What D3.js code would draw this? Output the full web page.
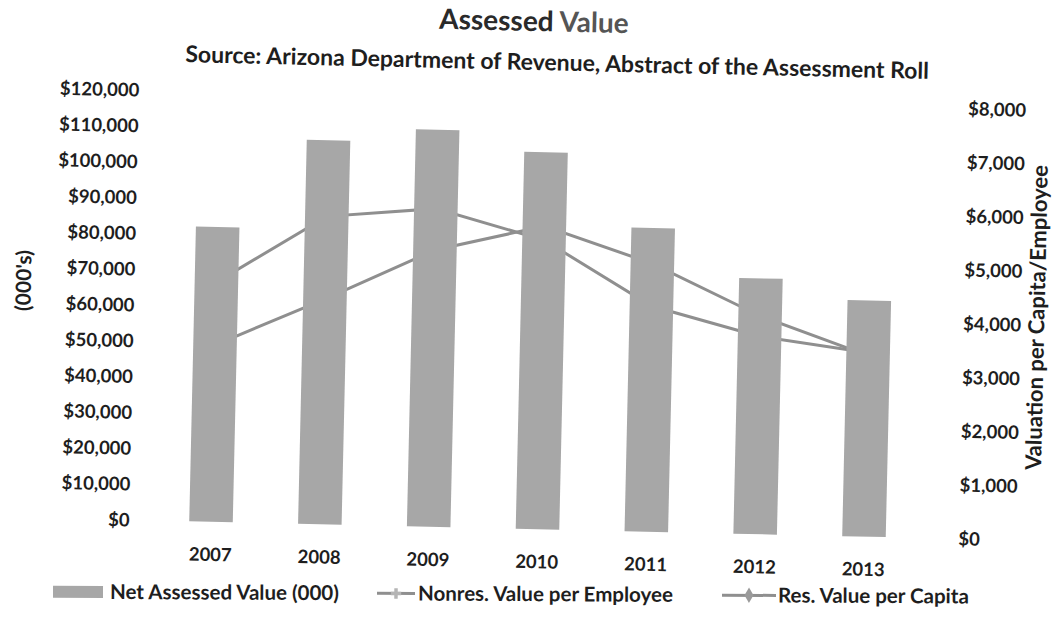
<!DOCTYPE html>
<html>
<head>
<meta charset="utf-8">
<script src="https://cdn.jsdelivr.net/npm/d3@7"></script>
<style>
  html, body { margin: 0; padding: 0; background: #fff; }
  svg { display: block; }
  text { font-family: Lato, "Noto Sans", sans-serif; }
</style>
</head>
<body>
<svg id="chart" width="1055" height="622"></svg>
<script>
// ---- data ----
const years = ["2007", "2008", "2009", "2010", "2011", "2012", "2013"];
const netAssessedValue = [82300, 107200, 110800, 105200, 84800, 71400, 65900];
const nonresValuePerEmployee = [4460, 5730, 5920, 5380, 4200, 3680, 3420];
const resValuePerCapita = [3290, 4190, 5150, 5640, 4990, 4060, 3370];
const leftTicks = [0, 10000, 20000, 30000, 40000, 50000, 60000, 70000, 80000, 90000, 100000, 110000, 120000];
const rightTicks = [0, 1000, 2000, 3000, 4000, 5000, 6000, 7000, 8000];
const seriesNames = ["Net Assessed Value (000)", "Nonres. Value per Employee", "Res. Value per Capita"];

// ---- layout / style ----
const W = 1055, H = 622;
const plotLeft = 161, plotRight = 923, plotTop = 99, plotBottom = 529;
const barColor = "#a7a7a7";
const lineColor = "#8f8f8f";
const textColor = "#1e1e1e";

const svg = d3.select("#chart");
svg.append("rect").attr("width", W).attr("height", H).attr("fill", "#fff");
// slight scan skew of the reference
const g = svg.append("g").attr("transform", "rotate(1.3, 530, 330)");

const x = d3.scaleBand().domain(years).range([plotLeft, plotRight]).paddingInner(0.6).paddingOuter(0.3);
const yL = d3.scaleLinear().domain([0, 120000]).range([plotBottom, plotTop]);
const yR = d3.scaleLinear().domain([0, 8000]).range([plotBottom, plotTop]);
const cx = d => x(d) + x.bandwidth() / 2;

// lines (drawn behind the bars, as in the reference)
const lineGen = arr => d3.line().x((d, i) => cx(years[i])).y(d => yR(d))(arr);
g.append("path").attr("d", lineGen(nonresValuePerEmployee))
  .attr("fill", "none").attr("stroke", lineColor).attr("stroke-width", 3);
g.append("path").attr("d", lineGen(resValuePerCapita))
  .attr("fill", "none").attr("stroke", lineColor).attr("stroke-width", 3);

// bars
g.selectAll("rect.bar").data(netAssessedValue).enter().append("rect")
  .attr("class", "bar")
  .attr("x", (d, i) => x(years[i]))
  .attr("width", x.bandwidth())
  .attr("y", d => yL(d))
  .attr("height", d => yL(0) - yL(d))
  .attr("fill", barColor);

// left axis
const money = d => "$" + d3.format(",")(d);
const axL = g.append("g").attr("transform", "translate(134,0)")
  .call(d3.axisLeft(yL).tickValues(leftTicks).tickFormat(money).tickSize(0).tickPadding(0));
axL.select(".domain").remove();
axL.selectAll("text").attr("font-size", 18.5).attr("font-weight", 700).attr("fill", textColor)
  .style("font-family", "Lato, sans-serif");

// right axis
const axR = g.append("g").attr("transform", "translate(963,0)")
  .call(d3.axisRight(yR).tickValues(rightTicks).tickFormat(money).tickSize(0).tickPadding(0));
axR.select(".domain").remove();
axR.selectAll("text").attr("font-size", 18.5).attr("font-weight", 700).attr("fill", textColor)
  .style("font-family", "Lato, sans-serif");

// x axis
const axX = g.append("g").attr("transform", "translate(0,555)")
  .call(d3.axisBottom(x).tickSize(0).tickPadding(0));
axX.select(".domain").remove();
axX.selectAll("text").attr("font-size", 18.5).attr("font-weight", 700).attr("fill", textColor)
  .style("font-family", "Lato, sans-serif");

// titles
const title = g.append("text").attr("x", 527).attr("y", 31).attr("text-anchor", "middle")
  .attr("font-size", 28).attr("font-weight", 700);
title.append("tspan").attr("fill", "#2a2a2a").text("Assessed ");
title.append("tspan").attr("fill", "#555").text("Value");

g.append("text").attr("x", 551).attr("y", 70).attr("text-anchor", "middle")
  .attr("font-size", 23).attr("font-weight", 700).attr("fill", textColor)
  .text("Source: Arizona Department of Revenue, Abstract of the Assessment Roll");

g.append("text").attr("transform", "translate(30,292) rotate(-90)").attr("text-anchor", "middle")
  .attr("font-size", 21).attr("font-weight", 700).attr("fill", textColor).text("(000's)");

g.append("text").attr("transform", "translate(1044,306) rotate(-90)").attr("text-anchor", "middle")
  .attr("font-size", 22).attr("font-weight", 700).attr("fill", textColor)
  .text("Valuation per Capita/Employee");

// legend (less skewed than the plot in the reference)
const legY = 594;
const leg = svg.append("g").attr("transform", "rotate(0.3, 500, 594)");
const legFont = 20.5;
leg.append("rect").attr("x", 53).attr("y", legY - 6).attr("width", 50).attr("height", 12).attr("fill", barColor);
leg.append("text").attr("x", 110).attr("y", legY + 7).attr("font-size", legFont).attr("font-weight", 700)
  .attr("fill", textColor).text(seriesNames[0]);

leg.append("line").attr("x1", 377).attr("x2", 415).attr("y1", legY).attr("y2", legY)
  .attr("stroke", lineColor).attr("stroke-width", 3);
leg.append("path").attr("d", d3.symbol(d3.symbolCross, 60)()).attr("transform", `translate(396,${legY})`)
  .attr("fill", "#b5b5b5");
leg.append("text").attr("x", 418).attr("y", legY + 7).attr("font-size", legFont).attr("font-weight", 700)
  .attr("fill", textColor).text(seriesNames[1]);

leg.append("line").attr("x1", 722).attr("x2", 776).attr("y1", legY).attr("y2", legY)
  .attr("stroke", lineColor).attr("stroke-width", 3);
leg.append("path").attr("d", d3.symbol(d3.symbolDiamond, 70)()).attr("transform", `translate(749,${legY})`)
  .attr("fill", "#9a9a9a");
leg.append("text").attr("x", 778).attr("y", legY + 7).attr("font-size", legFont).attr("font-weight", 700)
  .attr("fill", textColor).text(seriesNames[2]);
</script>
</body>
</html>
